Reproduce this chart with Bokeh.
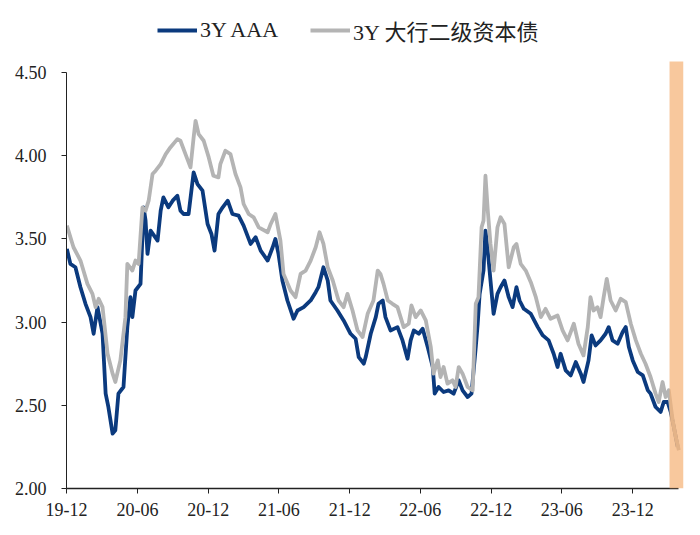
import pandas as pd
from bokeh.plotting import figure
from bokeh.models import (Legend, LegendItem, FixedTicker, NumeralTickFormatter,
                          Range1d, BoxAnnotation)
from bokeh.embed import file_html
from bokeh.resources import INLINE

# ---------------- data ----------------
aaa_dates = [
    "2019-12-02", "2019-12-11", "2019-12-24", "2020-01-06", "2020-01-19", "2020-02-01",
    "2020-02-09", "2020-02-19", "2020-03-03", "2020-03-11", "2020-03-18", "2020-03-29",
    "2020-04-05", "2020-04-13", "2020-04-26", "2020-05-06", "2020-05-14", "2020-05-19",
    "2020-05-27", "2020-06-09", "2020-06-17", "2020-06-22", "2020-06-27", "2020-07-05",
    "2020-07-23", "2020-07-31", "2020-08-07", "2020-08-20", "2020-08-31", "2020-09-12",
    "2020-09-20", "2020-09-28", "2020-10-11", "2020-10-24", "2020-11-03", "2020-11-16",
    "2020-11-29", "2020-12-09", "2020-12-17", "2020-12-27", "2021-01-07", "2021-01-20",
    "2021-02-01", "2021-02-17", "2021-03-02", "2021-03-20", "2021-04-02", "2021-04-15",
    "2021-05-03", "2021-05-16", "2021-05-23", "2021-05-31", "2021-06-10", "2021-06-23",
    "2021-07-09", "2021-07-19", "2021-08-04", "2021-08-22", "2021-09-04", "2021-09-11",
    "2021-09-24", "2021-10-05", "2021-10-12", "2021-10-30", "2021-11-15", "2021-12-03",
    "2021-12-16", "2021-12-24", "2022-01-06", "2022-01-11", "2022-01-24", "2022-02-06",
    "2022-02-13", "2022-02-24", "2022-03-03", "2022-03-16", "2022-04-03", "2022-04-16",
    "2022-04-29", "2022-05-07", "2022-05-15", "2022-05-28", "2022-06-07", "2022-06-20",
    "2022-07-03", "2022-07-08", "2022-07-18", "2022-07-31", "2022-08-13", "2022-08-26",
    "2022-09-08", "2022-09-18", "2022-10-01", "2022-10-11", "2022-10-22", "2022-10-27",
    "2022-11-01", "2022-11-11", "2022-11-16", "2022-11-22", "2022-11-29", "2022-12-07",
    "2022-12-17", "2022-12-25", "2023-01-04", "2023-01-15", "2023-01-25", "2023-02-04",
    "2023-02-12", "2023-02-23", "2023-03-13", "2023-03-31", "2023-04-13", "2023-04-28",
    "2023-05-11", "2023-05-21", "2023-05-29", "2023-06-11", "2023-06-24", "2023-07-07",
    "2023-07-20", "2023-07-27", "2023-08-09", "2023-08-17", "2023-08-27", "2023-09-09",
    "2023-09-22", "2023-09-30", "2023-10-10", "2023-10-23", "2023-11-05", "2023-11-13",
    "2023-11-21", "2023-12-01", "2023-12-14", "2023-12-27", "2024-01-09", "2024-01-16",
    "2024-01-29", "2024-02-11", "2024-02-19", "2024-02-29", "2024-03-08", "2024-03-16",
    "2024-03-26",
]
aaa_values = [
    3.44, 3.35, 3.33, 3.21, 3.11, 3.03,
    2.93, 3.09, 2.93, 2.57, 2.49, 2.33,
    2.35, 2.57, 2.61, 2.97, 3.15, 3.03,
    3.19, 3.23, 3.69, 3.61, 3.41, 3.55,
    3.49, 3.67, 3.75, 3.69, 3.73, 3.76,
    3.67, 3.65, 3.65, 3.90, 3.83, 3.79,
    3.59, 3.53, 3.43, 3.65, 3.69, 3.73,
    3.65, 3.64, 3.58, 3.47, 3.51, 3.43,
    3.37, 3.45, 3.50, 3.41, 3.25, 3.13,
    3.02, 3.07, 3.09, 3.13, 3.18, 3.21,
    3.33, 3.25, 3.13, 3.07, 3.01, 2.93,
    2.90, 2.79, 2.75, 2.79, 2.93, 3.03,
    3.11, 3.13, 3.03, 2.95, 2.97, 2.89,
    2.78, 2.89, 2.95, 2.93, 2.96, 2.85,
    2.73, 2.57, 2.61, 2.58, 2.59, 2.57,
    2.65, 2.59, 2.55, 2.57, 2.85, 2.99,
    3.17, 3.31, 3.55, 3.43, 3.25, 3.05,
    3.17, 3.21, 3.25, 3.15, 3.09, 3.21,
    3.13, 3.08, 3.05, 2.97, 2.92, 2.89,
    2.81, 2.73, 2.81, 2.71, 2.68, 2.76,
    2.69, 2.64, 2.77, 2.92, 2.86, 2.89,
    2.93, 2.97, 2.89, 2.87, 2.94, 2.97,
    2.85, 2.77, 2.70, 2.68, 2.59, 2.57,
    2.49, 2.46, 2.52, 2.52, 2.46, 2.37,
    2.25,
]

t2_dates = [
    "2019-12-02", "2019-12-19", "2020-01-06", "2020-01-24", "2020-02-06", "2020-02-14",
    "2020-02-22", "2020-03-03", "2020-03-16", "2020-03-29", "2020-04-05", "2020-04-18",
    "2020-05-01", "2020-05-06", "2020-05-19", "2020-05-27", "2020-06-04", "2020-06-14",
    "2020-06-22", "2020-06-30", "2020-07-10", "2020-07-18", "2020-07-31", "2020-08-13",
    "2020-08-25", "2020-09-12", "2020-09-20", "2020-10-03", "2020-10-16", "2020-10-24",
    "2020-10-29", "2020-11-06", "2020-11-19", "2020-12-02", "2020-12-14", "2020-12-27",
    "2021-01-01", "2021-01-14", "2021-01-27", "2021-02-09", "2021-02-22", "2021-03-02",
    "2021-03-15", "2021-03-28", "2021-04-10", "2021-05-03", "2021-05-11", "2021-05-23",
    "2021-06-05", "2021-06-13", "2021-07-01", "2021-07-14", "2021-07-27", "2021-08-09",
    "2021-08-22", "2021-09-04", "2021-09-14", "2021-09-24", "2021-10-05", "2021-10-18",
    "2021-11-02", "2021-11-15", "2021-11-25", "2021-12-08", "2021-12-21", "2022-01-03",
    "2022-01-16", "2022-01-31", "2022-02-11", "2022-02-18", "2022-02-26", "2022-03-09",
    "2022-03-21", "2022-04-03", "2022-04-19", "2022-05-02", "2022-05-09", "2022-05-20",
    "2022-06-02", "2022-06-15", "2022-06-28", "2022-07-05", "2022-07-16", "2022-07-23",
    "2022-07-31", "2022-08-10", "2022-08-23", "2022-08-31", "2022-09-08", "2022-09-18",
    "2022-10-01", "2022-10-14", "2022-10-22", "2022-10-29", "2022-11-06", "2022-11-11",
    "2022-11-16", "2022-11-22", "2022-11-29", "2022-12-07", "2022-12-17", "2022-12-25",
    "2023-01-04", "2023-01-15", "2023-01-28", "2023-02-04", "2023-02-15", "2023-02-28",
    "2023-03-13", "2023-03-26", "2023-04-08", "2023-04-20", "2023-05-03", "2023-05-21",
    "2023-06-03", "2023-06-16", "2023-07-02", "2023-07-14", "2023-07-27", "2023-08-07",
    "2023-08-14", "2023-08-22", "2023-09-01", "2023-09-09", "2023-09-17", "2023-09-25",
    "2023-10-05", "2023-10-18", "2023-10-31", "2023-11-13", "2023-11-26", "2023-12-09",
    "2023-12-22", "2024-01-03", "2024-01-16", "2024-01-29", "2024-02-06", "2024-02-16",
    "2024-02-24", "2024-03-03", "2024-03-13", "2024-03-21", "2024-03-29",
]
t2_values = [
    3.58, 3.45, 3.37, 3.23, 3.17, 3.09,
    3.14, 3.09, 2.81, 2.69, 2.64, 2.77,
    3.03, 3.35, 3.31, 3.37, 3.35, 3.69,
    3.67, 3.73, 3.89, 3.91, 3.95, 4.01,
    4.05, 4.10, 4.09, 4.01, 3.93, 4.11,
    4.21, 4.13, 4.09, 3.99, 3.88, 3.87,
    3.95, 4.03, 4.01, 3.89, 3.81, 3.71,
    3.65, 3.63, 3.57, 3.54, 3.59, 3.65,
    3.49, 3.29, 3.19, 3.15, 3.29, 3.31,
    3.37, 3.45, 3.54, 3.47, 3.33, 3.25,
    3.13, 3.09, 3.17, 3.07, 2.95, 2.91,
    3.05, 3.13, 3.31, 3.29, 3.23, 3.13,
    3.11, 3.09, 2.97, 2.99, 3.10, 3.03,
    3.07, 3.01, 2.85, 2.69, 2.77, 2.67,
    2.73, 2.63, 2.65, 2.61, 2.73, 2.69,
    2.61, 2.59, 3.11, 3.15, 3.57, 3.61,
    3.88, 3.67, 3.47, 3.31, 3.57, 3.63,
    3.59, 3.33, 3.45, 3.47, 3.35, 3.31,
    3.24, 3.15, 3.03, 3.08, 3.02, 3.04,
    2.95, 2.89, 2.99, 2.87, 2.80, 2.97,
    3.15, 3.07, 3.09, 3.03, 3.15, 3.26,
    3.13, 3.07, 3.14, 3.12, 2.99, 2.89,
    2.81, 2.75, 2.67, 2.57, 2.52, 2.64,
    2.55, 2.59, 2.41, 2.31, 2.23,
]

series_names = ["3Y AAA", "3Y 大行二级资本债"]
series_colors = ["#0B3A7E", "#B4B4B4"]

x_tick_dates = ["2019-12-01", "2020-06-01", "2020-12-01", "2021-06-01", "2021-12-01",
                "2022-06-01", "2022-12-01", "2023-06-01", "2023-12-01"]
x_tick_labels = ["19-12", "20-06", "20-12", "21-06", "21-12",
                 "22-06", "22-12", "23-06", "23-12"]
y_ticks = [2.0, 2.5, 3.0, 3.5, 4.0, 4.5]

x_start = "2019-12-01"
x_axis_end = "2024-03-27"
x_end = "2024-04-10"
y_min, y_axis_max, y_max = 2.0, 4.5, 4.885
highlight_start = "2024-03-05"
highlight_end = x_end
highlight_top = 4.567

# ---------------- figure ----------------
def ms(d):
    return float(pd.Timestamp(d).value // 10**6)

FONT = "'Liberation Serif', 'Noto Sans CJK SC', serif"

p = figure(width=692, height=527, output_backend="svg", toolbar_location=None,
           x_axis_type="datetime",
           x_range=Range1d(ms(x_start), ms(x_end)),
           y_range=Range1d(y_min, y_max),
           min_border_left=66, min_border_right=9,
           min_border_top=8, min_border_bottom=39)
p.outline_line_color = None
p.xgrid.visible = False
p.ygrid.visible = False
p.background_fill_color = "white"
p.border_fill_color = "white"

r1 = p.line(pd.to_datetime(aaa_dates), aaa_values, line_color=series_colors[0],
            line_width=3.8, line_join="round")
r2 = p.line(pd.to_datetime(t2_dates), t2_values, line_color=series_colors[1],
            line_width=3.8, line_join="round")

band = BoxAnnotation(left=ms(highlight_start), right=ms(highlight_end),
                     bottom=y_min, top=highlight_top,
                     fill_color="#F5B377", fill_alpha=0.72, line_color=None)
p.add_layout(band)

# axes
xa = p.xaxis[0]
xa.ticker = FixedTicker(ticks=[ms(d) for d in x_tick_dates])
xa.major_label_overrides = {ms(d): lab for d, lab in zip(x_tick_dates, x_tick_labels)}
xa.bounds = (ms(x_start), ms(x_axis_end))
xa.minor_tick_line_color = None
xa.major_tick_in = 0
xa.major_tick_out = 5
xa.axis_line_color = "#222222"
xa.axis_line_width = 1.3
xa.major_tick_line_color = "#222222"
xa.major_label_text_font = FONT
xa.major_label_text_font_size = "18px"
xa.major_label_text_color = "#222222"
xa.major_label_standoff = 9

ya = p.yaxis[0]
ya.ticker = FixedTicker(ticks=y_ticks)
ya.formatter = NumeralTickFormatter(format="0.00")
ya.bounds = (y_min, y_axis_max)
ya.minor_tick_line_color = None
ya.major_tick_in = 0
ya.major_tick_out = 5
ya.axis_line_color = "#222222"
ya.major_tick_line_color = "#222222"
ya.major_label_text_font = FONT
ya.major_label_text_font_size = "18px"
ya.major_label_text_color = "#222222"
ya.major_label_standoff = 15

legend = Legend(items=[LegendItem(label=series_names[0], renderers=[r1]),
                       LegendItem(label=series_names[1], renderers=[r2])],
                orientation="horizontal", location=(91, 442),
                glyph_width=40, glyph_height=24, label_standoff=3, spacing=32,
                padding=0, margin=0, border_line_color=None,
                background_fill_alpha=0,
                label_text_font=FONT, label_text_font_size="22px",
                label_text_color="#222222")
p.add_layout(legend)

open("out.html", "w").write(file_html(p, INLINE))
